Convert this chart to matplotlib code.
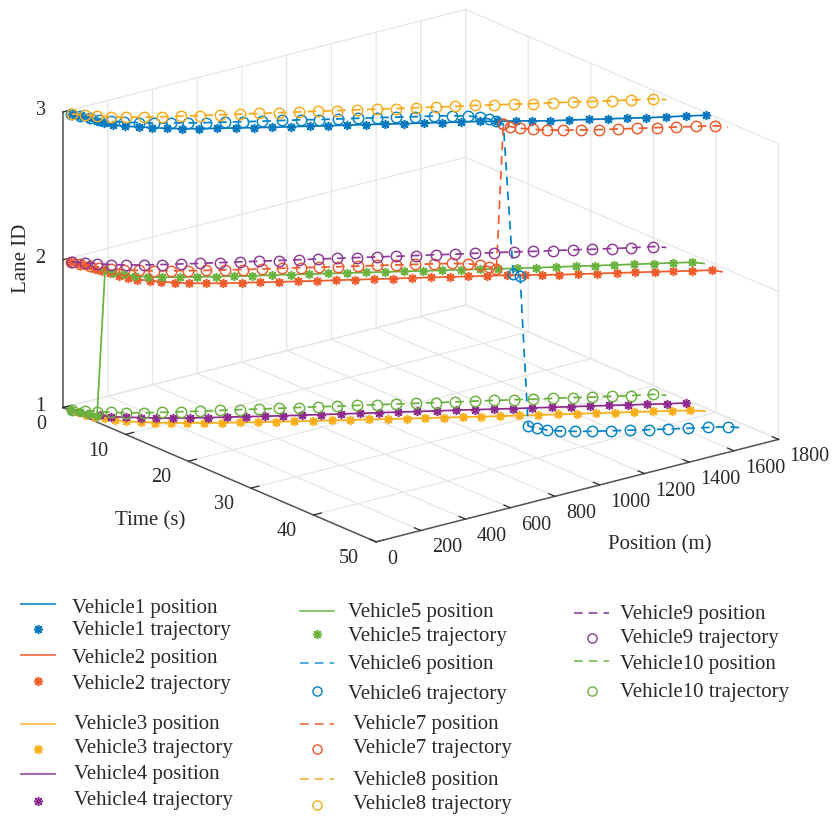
import numpy as np
from matplotlib import pyplot as plt, rcParams
from matplotlib.lines import Line2D

rcParams["font.family"] = ["Liberation Serif", "DejaVu Serif"]
rcParams["font.size"] = 15
TEXT = "#2b2a29"
W, H = 836, 818

# position (m) at t = 1, 2, 3 ... s
pos_v1 = [11, 20, 33, 38, 42, 54, 80, 114, 147, 185, 225, 273, 325, 380, 433, 485, 543, 601, 655, 712,
          769, 825, 880, 940, 993, 1051, 1108, 1158, 1212, 1258, 1308, 1368, 1426, 1484, 1543, 1598, 1659, 1723, 1784]
pos_v2 = [8, 18, 24, 30, 34, 42, 53, 65, 77, 107, 132, 166, 200, 247, 295, 351, 407, 460, 517, 574, 631,
          688, 745, 802, 859, 916, 973, 1028, 1086, 1144, 1197, 1246, 1295, 1353, 1410, 1468, 1524, 1582, 1638, 1693, 1753, 1771]
pos_v3 = [6, 11, 18, 30, 47, 63, 87, 123, 161, 203, 248, 295, 346, 398, 451, 506, 558, 614, 669, 725,
          781, 836, 892, 948, 1004, 1059, 1115, 1170, 1229, 1284, 1344, 1402, 1458, 1516, 1574, 1631, 1688, 1742, 1779]
pos_v4 = [8, 20, 32, 52, 76, 112, 154, 192, 238, 289, 342, 399, 452, 509, 563, 621, 679, 737, 795, 853,
          911, 969, 1027, 1085, 1143, 1200, 1256, 1315, 1373, 1431, 1489, 1547, 1604, 1661, 1719, 1779]
pos_v5 = [8, 18, 30, 40, 48, 55, 75, 96, 126, 164, 216, 264, 319, 372, 424, 485, 542, 598, 655, 711,
          768, 824, 881, 937, 993, 1051, 1109, 1163, 1219, 1277, 1336, 1397, 1455, 1513, 1572, 1633, 1692, 1749, 1775]
pos_v6 = [8, 20, 36, 49, 76, 104, 142, 182, 231, 280, 331, 388, 442, 498, 558, 617, 669, 727, 785, 843,
          900, 956, 1014, 1067, 1109, 1136, 1149, 1154, 1157, 1173, 1176, 1184, 1196, 1212, 1241, 1280,
          1328, 1385, 1443, 1499, 1557, 1618, 1679, 1740, 1770]
pos_v7 = [8, 20, 36, 49, 76, 104, 142, 182, 231, 280, 331, 388, 442, 498, 558, 617, 669, 727, 785, 843,
          900, 956, 1014, 1067, 1109, 1136, 1149, 1154, 1157, 1160, 1176, 1206, 1240, 1284, 1336, 1388,
          1448, 1505, 1566, 1622, 1683, 1739, 1769]
pos_v8 = [11, 42, 70, 104, 143, 192, 245, 304, 361, 421, 482, 540, 600, 661, 722, 779, 840, 900, 957, 1018,
          1079, 1135, 1200, 1257, 1318, 1374, 1435, 1496, 1552, 1613, 1674, 1742, 1774]
pos_v9 = pos_v8
pos_v10 = pos_v8

lane_v1 = [3] * 39
lane_v2 = [2] * 42
lane_v3 = [1] * 39
lane_v4 = [1] * 36
lane_v5 = [1] * 4 + [2] * 35
lane_v6 = [3] * 29 + [2] * 2 + [1] * 14
lane_v7 = [2] * 28 + [3] * 15
lane_v8 = [3] * 33
lane_v9 = [2] * 33
lane_v10 = [1] * 33

positions = [pos_v1, pos_v2, pos_v3, pos_v4, pos_v5, pos_v6, pos_v7, pos_v8, pos_v9, pos_v10]
lanes = [lane_v1, lane_v2, lane_v3, lane_v4, lane_v5, lane_v6, lane_v7, lane_v8, lane_v9, lane_v10]
# last point of some position lines has no trajectory marker
n_markers = [39, 41, 38, 36, 38, 44, 42, 32, 32, 32]
colors = ["#0076BE", "#F15A29", "#FBAE17", "#8E2A8E", "#69B23E",
          "#0082C8", "#EE5A2A", "#FBA919", "#8E3A96", "#69B23E"]
legend_colors = ["#1B87CC", "#F26B43", "#FDBA4D", "#9B4CA6", "#7CC05A",
                 "#34A3DC", "#F26B43", "#FBB040", "#8E4CA6", "#7CC05A"]

time_ticks = [0, 10, 20, 30, 40, 50]
position_ticks = [0, 200, 400, 600, 800, 1000, 1200, 1400, 1600, 1800]
lane_ticks = [1, 2, 3]

fig = plt.figure(figsize=(W / 100, H / 100), dpi=100)
size = 764
cx, cy = 410.5, 286
ax = fig.add_axes([(cx - size / 2) / W, (H - cy - size / 2) / H, size / W, size / H],
                  projection="3d", proj_type="ortho")
ax.patch.set_alpha(0)
ax.view_init(elev=19.3, azim=-37.6)
ax.set_box_aspect((516, 511, 315))
ax.set_xlim(0, 50, view_margin=0)
ax.set_ylim(0, 1800, view_margin=0)
ax.set_zlim(1, 3, view_margin=0)

for i in range(10):
    p = np.array(positions[i])
    t = np.arange(1, len(p) + 1)
    z = np.array(lanes[i])
    ls = "-" if i < 5 else (0, (5, 3.5))
    ax.plot(t, p, z, c=colors[i], lw=1.25, ls=ls)
    n = n_markers[i]
    if i < 5:
        ax.plot(t[:n], p[:n], z[:n], ls="", marker=(8, 2, 0), ms=6.6, mew=1.15, c=colors[i])
    else:
        ax.plot(t[:n], p[:n], z[:n], ls="", marker="o", ms=7.5, mew=1.05, mfc="none", c=colors[i])

ax.set_xticks(time_ticks)
ax.set_yticks(position_ticks)
ax.set_zticks(lane_ticks)
ax.tick_params(axis="x", pad=4, colors=TEXT, labelsize=14.5)
ax.tick_params(axis="y", pad=2, colors=TEXT, labelsize=14.5)
ax.tick_params(axis="z", pad=1, colors=TEXT, labelsize=14.5)
ax.zaxis.set_ticks_position("lower")
for lab in ax.get_xticklabels():
    lab.set_ha("right")
    lab.set_va("center")
for lab in ax.get_yticklabels():
    lab.set_ha("left")
    lab.set_va("center_baseline")
for lab in ax.get_zticklabels():
    lab.set_va("center")
for axis in (ax.xaxis, ax.yaxis, ax.zaxis):
    axis.set_pane_color((1, 1, 1, 0))
    axis.pane.set_edgecolor("#e2e2e2")
    axis.line.set_color("#555555")
    axis.line.set_linewidth(1.1)
    axis._axinfo["grid"].update(color="#e6e6e6", linewidth=0.9)
    axis._axinfo["tick"].update(inward_factor=0, outward_factor=0.25, linewidth={True: 0.9, False: 0.9})
    axis._axinfo["tick"]["color"] = "#555555"

fig.text(21 / W, 1 - 258 / H, "Lane ID", rotation=90, ha="center", va="center", color=TEXT)
fig.text(150 / W, 1 - 521 / H, "Time (s)", ha="center", va="center", color=TEXT)
fig.text(660 / W, 1 - 545 / H, "Position (m)", ha="center", va="center", color=TEXT)

# legend rows, pixels from the top: line, marker, position text, trajectory text
legend_rows = [
    (604, 629, 608, 630), (655, 681, 659, 684), (724, 749, 725, 749), (774, 801, 775, 801),
    (611, 634, 612, 636), (663, 691, 665, 694), (724, 749, 725, 749), (779, 805, 780, 805),
    (613, 638, 615, 639), (661, 691, 665, 693),
]
legend_x = [
    (21, 55, 72), (21, 55, 72), (21, 55, 74), (21, 55, 74),
    (300, 334, 348), (300, 334, 348), (300, 334, 353), (300, 334, 353),
    (574, 609, 620), (574, 609, 620),
]
for i in range(10):
    y_line, y_mark, y_pos, y_traj = legend_rows[i]
    x0, x1, x_text = legend_x[i]
    ls = "-" if i < 5 else (0, (5, 3.5))
    fig.add_artist(Line2D([x0 / W, x1 / W], [1 - y_line / H] * 2, c=legend_colors[i], lw=1.25, ls=ls))
    if i < 5:
        fig.add_artist(Line2D([(x0 + x1) / 2 / W], [1 - y_mark / H], ls="", marker=(8, 2, 0), ms=6.6, mew=1.15, c=colors[i]))
    else:
        fig.add_artist(Line2D([(x0 + x1) / 2 / W], [1 - y_mark / H], ls="", marker="o", ms=6.6, mew=1.0, mfc="none", c=colors[i]))
    fig.text(x_text / W, 1 - y_pos / H, f"Vehicle{i + 1} position", va="center", color=TEXT)
    fig.text(x_text / W, 1 - y_traj / H, f"Vehicle{i + 1} trajectory", va="center", color=TEXT)

fig.savefig("out.png", dpi=100)
